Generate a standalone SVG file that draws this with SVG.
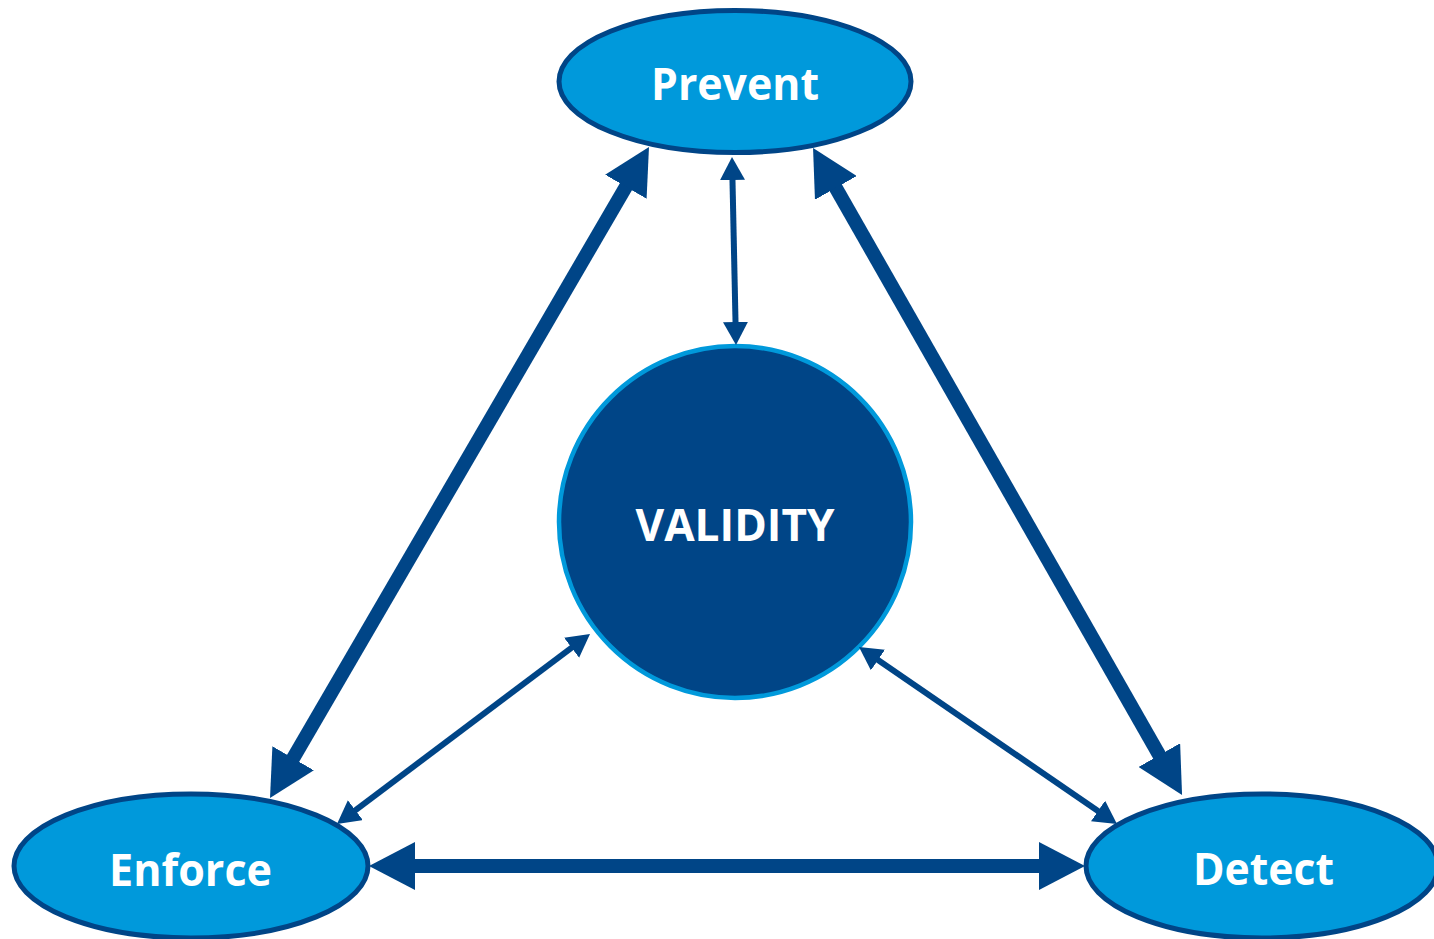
<svg xmlns="http://www.w3.org/2000/svg" width="1434" height="939" viewBox="0 0 1434 939">
<style>
.oval{fill:#0099DB;stroke:#004587;stroke-width:5}
.core{fill:#004587;stroke:#0099DB;stroke-width:4.5}
.lbl{font-family:"Open Sans",Lato,"Liberation Sans",sans-serif;font-weight:bold;font-size:45px;fill:#FFFFFF;text-anchor:middle}
.thick{stroke:#004587;stroke-width:14;fill:none}
.thin{stroke:#004587;stroke-width:6;fill:none}
</style>
<defs>
<marker id="bigHead" viewBox="0 0 46 48" refX="16" refY="24" markerWidth="46" markerHeight="48" markerUnits="userSpaceOnUse" orient="auto-start-reverse">
<path d="M0,0 L46,24 L0,48 z" fill="#004587"/>
</marker>
<marker id="smallHead" viewBox="0 0 23 25" refX="11" refY="12.5" markerWidth="23" markerHeight="25" markerUnits="userSpaceOnUse" orient="auto-start-reverse">
<path d="M0,0 L23,12.5 L0,25 z" fill="#004587"/>
</marker>
</defs>
<rect width="1434" height="939" fill="#FFFFFF"/>
<g id="node-prevent">
<ellipse class="oval" cx="735" cy="81.5" rx="176" ry="71"/>
<text class="lbl" x="735" y="100" textLength="168" lengthAdjust="spacingAndGlyphs">Prevent</text>
</g>
<g id="node-validity">
<circle class="core" cx="735" cy="522" r="176"/>
<text class="lbl" x="735" y="541" textLength="199" lengthAdjust="spacingAndGlyphs">VALIDITY</text>
</g>
<g id="node-enforce">
<ellipse class="oval" cx="191" cy="866" rx="177" ry="72"/>
<text class="lbl" x="190.5" y="886" textLength="163" lengthAdjust="spacingAndGlyphs">Enforce</text>
</g>
<g id="node-detect">
<ellipse class="oval" cx="1262" cy="866" rx="176" ry="72"/>
<text class="lbl" x="1263.5" y="885" textLength="141" lengthAdjust="spacingAndGlyphs">Detect</text>
</g>
<g id="connectors">
<line class="thick" x1="285.1" y1="772.1" x2="633.9" y2="172.9" marker-start="url(#bigHead)" marker-end="url(#bigHead)"/>
<line class="thick" x1="827.9" y1="174" x2="1167.2" y2="769" marker-start="url(#bigHead)" marker-end="url(#bigHead)"/>
<line class="thick" x1="399" y1="866" x2="1055" y2="866" marker-start="url(#bigHead)" marker-end="url(#bigHead)"/>
<line class="thin" x1="732.25" y1="169" x2="735.75" y2="333" marker-start="url(#smallHead)" marker-end="url(#smallHead)"/>
<line class="thin" x1="346.6" y1="816.8" x2="580.4" y2="641.2" marker-start="url(#smallHead)" marker-end="url(#smallHead)"/>
<line class="thin" x1="868.9" y1="653.8" x2="1107.1" y2="817.2" marker-start="url(#smallHead)" marker-end="url(#smallHead)"/>
</g>
</svg>
